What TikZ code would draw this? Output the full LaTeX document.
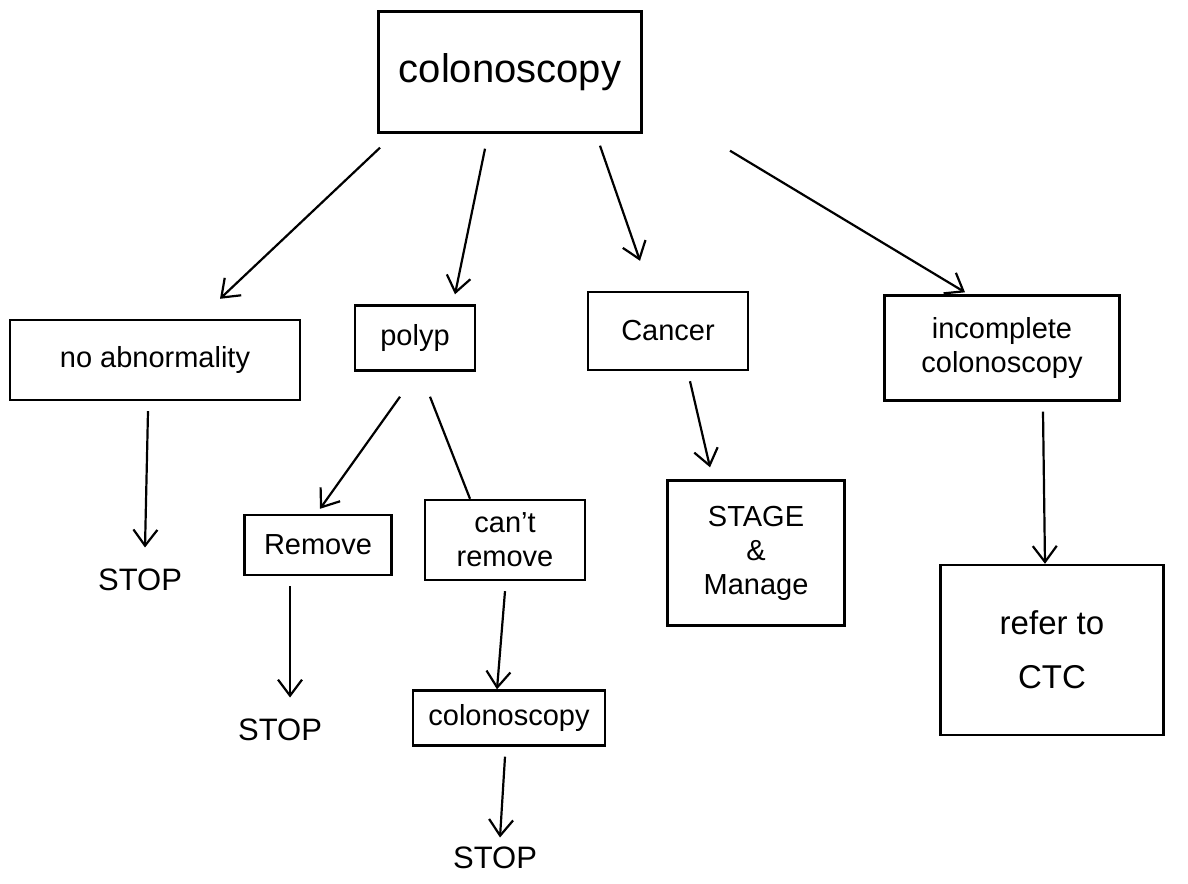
\documentclass[tikz,border=0pt]{standalone}
\usepackage{fontspec}
\setmainfont{Liberation Sans}
\usetikzlibrary{arrows.meta}
\begin{document}
\begin{tikzpicture}[x=1pt,y=-1pt,
  box/.style={draw,line width=2.4pt,inner sep=2pt,align=center,font=\fontsize{29}{34}\selectfont},
  lbl/.style={font=\fontsize{31}{35}\selectfont},
  arr/.style={line width=2.2pt,-{Straight Barb[length=16pt,width=24pt,line width=2.2pt]}},
  ln/.style={line width=2.2pt}]
\path[use as bounding box,fill=white] (0,0) rectangle (1188,883);
% nodes
\node[box,minimum width=263pt,minimum height=121pt,font=\fontsize{40}{46}\selectfont] (top) at (510,72) {colonoscopy};
\node[box,minimum width=290pt,minimum height=80pt] (noab) at (155,360) {no abnormality};
\node[box,minimum width=120pt,minimum height=65pt] (polyp) at (415,338) {polyp};
\node[box,minimum width=160pt,minimum height=78pt] (cancer) at (668,331) {Cancer};
\node[box,minimum width=235pt,minimum height=105pt] (incomp) at (1002,348) {incomplete\\colonoscopy};
\node[lbl] (stop1) at (140,580) {STOP};
\node[box,minimum width=147pt,minimum height=60pt] (remove) at (318,545) {Remove};
\node[box,minimum width=160pt,minimum height=80pt] (cant) at (505,540) {can't\\remove};
\node[box,minimum width=177pt,minimum height=145pt] (stage) at (756,553) {STAGE\\\&\\Manage};
\node[box,minimum width=223pt,minimum height=170pt,font=\fontsize{33}{54}\selectfont] (refer) at (1052,650) {refer to\\CTC};
\node[lbl] (stop2) at (280,730) {STOP};
\node[box,minimum width=192pt,minimum height=55pt] (colon2) at (509,718) {colonoscopy};
\node[lbl] (stop3) at (495,858) {STOP};
% connectors
\draw[arr] ([xshift=-130pt,yshift=-14pt]top.south) -- ([xshift=65pt,yshift=20pt]noab.north);
\draw[arr] ([xshift=-25pt,yshift=-15pt]top.south) -- ([xshift=40pt,yshift=10pt]polyp.north);
\draw[arr] ([xshift=90pt,yshift=-12pt]top.south) -- ([xshift=-28pt,yshift=30pt]cancer.north);
\draw[arr] ([xshift=220pt,yshift=-17pt]top.south) -- ([xshift=-37pt,yshift=2pt]incomp.north);
\draw[arr] ([xshift=-7pt,yshift=-10pt]noab.south) -- ([xshift=5pt,yshift=18pt]stop1.north);
\draw[arr] ([xshift=-15pt,yshift=-25pt]polyp.south) -- ([xshift=2pt,yshift=5pt]remove.north);
\draw[ln] ([xshift=15pt,yshift=-25pt]polyp.south) -- ([xshift=-35pt]cant.north);
\draw[arr] ([xshift=-28pt,yshift=-10pt]remove.south) -- ([xshift=10pt,yshift=18pt]stop2.north);
\draw[arr] ([xshift=0pt,yshift=-10pt]cant.south) -- ([xshift=-12pt,yshift=0pt]colon2.north);
\draw[arr] ([xshift=-4pt,yshift=-10pt]colon2.south) -- ([xshift=5pt,yshift=6pt]stop3.north);
\draw[arr] ([xshift=22pt,yshift=-10pt]cancer.south) -- ([xshift=-46pt,yshift=12pt]stage.north);
\draw[arr] ([xshift=41pt,yshift=-10pt]incomp.south) -- ([xshift=-7pt,yshift=0pt]refer.north);
\end{tikzpicture}
\end{document}
